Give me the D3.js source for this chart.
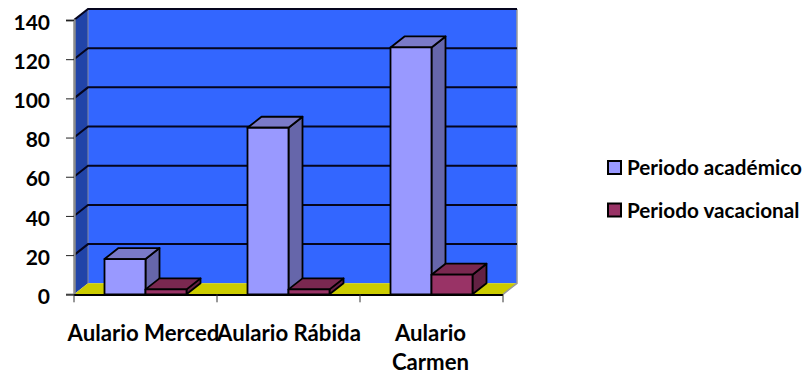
<!DOCTYPE html>
<html>
<head>
<meta charset="utf-8">
<script src="https://cdn.jsdelivr.net/npm/d3@7"></script>
<style>
html,body{margin:0;padding:0;background:#fff}
svg{display:block}
text{font-family:Lato,"Open Sans",sans-serif;font-weight:700;fill:#000}
</style>
</head>
<body>
<svg id="chart" width="803" height="374"></svg>
<script>
// Column data per building and season
const categories = ["Aulario Merced", "Aulario Rábida", "Aulario Carmen"];
const seriesNames = ["Periodo académico", "Periodo vacacional"];
const academico = [18, 85, 126];
const vacacional = [2.5, 2.5, 10];
const yTicks = [0, 20, 40, 60, 80, 100, 120, 140];

const colors = {
  "Periodo académico": {front: "#9999ff", top: "#7a7ac8", side: "#6666aa"},
  "Periodo vacacional": {front: "#993366", top: "#7a2850", side: "#632143"}
};

const svg = d3.select("#chart");
const depthX = 14, depthY = -11;

const y = d3.scaleLinear().domain([0, 140]).range([294.3, 20]);
const x = d3.scaleBand().domain(categories).range([74, 503]);
const xSeries = d3.scaleBand().domain(seriesNames).range([0, x.bandwidth()])
  .paddingInner(0).paddingOuter(0.744);

const line = d3.line();
const poly = pts => line(pts) + "Z";
const [x0, x1] = x.range();
const yBase = y(0), yTop = y(140);

// Back wall, side wall and floor of the 3D box
svg.append("path").attr("fill", "#3366ff")
  .attr("d", poly([[x0 + depthX, yTop + depthY], [x1 + depthX, yTop + depthY], [x1 + depthX, yBase + depthY], [x0 + depthX, yBase + depthY]]));
svg.append("path").attr("fill", "#2144a8")
  .attr("d", poly([[x0, yTop], [x0 + depthX, yTop + depthY], [x0 + depthX, yBase + depthY], [x0, yBase]]));
svg.append("path").attr("fill", "#cccc00")
  .attr("d", poly([[x0, yBase], [x0 + depthX, yBase + depthY], [x1 + depthX, yBase + depthY], [x1, yBase]]));

// Box edges
svg.append("path").attr("fill", "none").attr("stroke", "#9a9a9a").attr("stroke-width", 1.5)
  .attr("d", line([[x1 + depthX, yTop + depthY], [x1 + depthX, yBase + depthY], [x1, yBase]]));
svg.append("path").attr("fill", "none").attr("stroke", "#8a8a9a").attr("stroke-width", 1)
  .attr("d", line([[x0 + depthX, yTop + depthY], [x0 + depthX, yBase + depthY]]));

// Grid lines run along the side wall and across the back
const grid = svg.append("g").attr("fill", "none").attr("stroke", "#05051e").attr("stroke-width", 2);
yTicks.filter(t => t > 0).forEach(t => {
  grid.append("path").attr("d", line([[x0, y(t)], [x0 + depthX, y(t) + depthY], [x1 + depthX, y(t) + depthY]]));
});

// Columns: front, top and side faces
const rows = categories.flatMap((c, i) => [
  {cat: c, name: seriesNames[0], value: academico[i]},
  {cat: c, name: seriesNames[1], value: vacacional[i]}
]);
const bars = svg.append("g").selectAll("g").data(rows).join("g")
  .attr("stroke", "#000").attr("stroke-width", 1.8).attr("stroke-linejoin", "round");
bars.each(function(d) {
  const g = d3.select(this);
  const l = x(d.cat) + xSeries(d.name), r = l + xSeries.bandwidth();
  const t = y(d.value), b = yBase;
  const c = colors[d.name];
  g.append("path").attr("fill", c.side)
    .attr("d", poly([[r, t], [r + depthX, t + depthY], [r + depthX, b + depthY], [r, b]]));
  g.append("path").attr("fill", c.top)
    .attr("d", poly([[l, t], [l + depthX, t + depthY], [r + depthX, t + depthY], [r, t]]));
  g.append("path").attr("fill", c.front)
    .attr("d", poly([[l, t], [r, t], [r, b], [l, b]]));
});

// Value axis on the left
const yAxis = svg.append("g").attr("transform", `translate(${x0},0)`)
  .call(d3.axisLeft(y).tickValues(yTicks).tickSize(8).tickPadding(16));
yAxis.select(".domain").attr("stroke", "#8c8c8c").attr("stroke-width", 2.5);
yAxis.selectAll(".tick line").attr("stroke", "#222");
yAxis.selectAll("text").attr("font-size", 21).attr("dy", "0.44em")
  .style("font-family", "Lato").style("font-weight", 700);

// Category axis at the front of the floor
svg.append("line").attr("x1", x0).attr("x2", x1).attr("y1", yBase + 0.7).attr("y2", yBase + 0.7)
  .attr("stroke", "#000").attr("stroke-width", 2);
svg.append("g").selectAll("line").data(categories.concat(["end"])).join("line")
  .attr("x1", d => d === "end" ? x1 : x(d)).attr("x2", d => d === "end" ? x1 : x(d))
  .attr("y1", yBase).attr("y2", yBase + 8).attr("stroke", "#333");

const labelLines = [["Aulario Merced"], ["Aulario Rábida"], ["Aulario", "Carmen"]];
const labelShift = [-2, 0.5, -1];
categories.forEach((c, i) => {
  const t = svg.append("text").attr("text-anchor", "middle").attr("font-size", 22.2)
    .attr("x", x(c) + x.bandwidth() / 2 + labelShift[i]).attr("y", 341);
  labelLines[i].forEach((s, k) => {
    t.append("tspan").attr("x", t.attr("x")).attr("dy", k ? 28.5 : 0).text(s);
  });
});

// Legend
const legend = svg.append("g").selectAll("g").data(seriesNames).join("g")
  .attr("transform", (d, i) => `translate(608,${161 + i * 42.5})`);
legend.append("rect").attr("width", 13).attr("height", 13)
  .attr("fill", d => colors[d].front).attr("stroke", "#000").attr("stroke-width", 2);
legend.append("text").attr("x", 19).attr("y", 14).attr("font-size", 20.7).text(d => d);
</script>
</body>
</html>
